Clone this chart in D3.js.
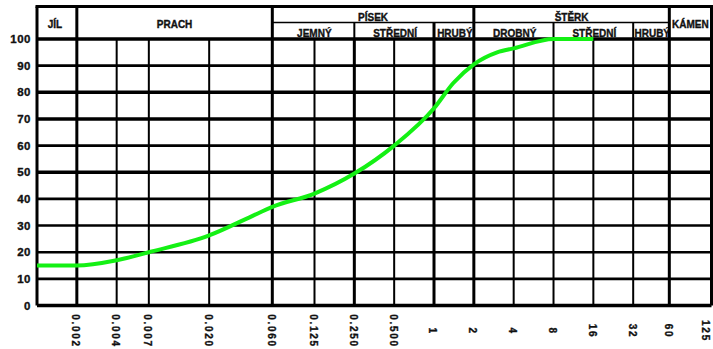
<!DOCTYPE html>
<html>
<head>
<meta charset="utf-8">
<script src="https://cdn.jsdelivr.net/npm/d3@7"></script>
<style>
  html, body { margin: 0; padding: 0; background: #fff; }
  svg { display: block; }
  text { font-family: "Liberation Sans", Arial, sans-serif; font-weight: bold; }
</style>
</head>
<body>
<svg id="chart" width="713" height="349"></svg>
<script>
// Grain-size boundaries (mm) and their printed labels
const sizeTicks  = [0.002, 0.004, 0.007, 0.020, 0.060, 0.125, 0.250, 0.500, 1, 2, 4, 8, 16, 32, 60, 125];
const sizeLabels = ["0.002", "0.004", "0.007", "0.020", "0.060", "0.125", "0.250", "0.500", "1", "2", "4", "8", "16", "32", "60", "125"];
// Boundaries between main fractions, drawn heavier
const majorBounds = [0.001, 0.002, 0.06, 0.25, 1, 2, 60, 125];

// Percent passing axis
const percentTicks = [0, 10, 20, 30, 40, 50, 60, 70, 80, 90, 100];
const heavyPercent = [0, 50, 70, 80, 100];

// Grading curve: grain size (mm) vs. percent passing
const grainSize = [0.001, 0.002, 0.004, 0.007, 0.02, 0.04, 0.06, 0.125, 0.25, 0.5, 1, 1.4, 2, 3, 4, 8, 16];
const passing   = [15, 15, 17, 20, 26.3, 33, 37, 42, 49.5, 60, 74, 83.5, 90.5, 95, 96.5, 100, 100];

// Soil classification header
const fullNames = ["JÍL", "PRACH", "KÁMEN"];
const fullFrom  = [0.001, 0.002, 60];
const fullTo    = [0.002, 0.06, 125];

const groupNames = ["PÍSEK", "ŠTĚRK"];
const groupFrom  = [0.06, 2];
const groupTo    = [2, 60];

const subNames = ["JEMNÝ", "STŘEDNÍ", "HRUBÝ", "DROBNÝ", "STŘEDNÍ", "HRUBÝ"];
const subFrom  = [0.06, 0.25, 1, 2, 8, 32];
const subTo    = [0.25, 1, 2, 8, 32, 60];

const svg = d3.select("#chart");

const x = d3.scaleLog().domain([0.001, 125]).range([37, 711.5]);
const y = d3.scaleLinear().domain([0, 100]).range([305.5, 39]);

const headTop = 6.5, headMid = 22.5, headBottom = y(100);

// --- horizontal grid ---
svg.append("g").selectAll("line").data(percentTicks).join("line")
  .attr("x1", x.range()[0]).attr("x2", x.range()[1])
  .attr("y1", d => y(d)).attr("y2", d => y(d))
  .attr("stroke", "#000")
  .attr("stroke-width", d => heavyPercent.includes(d) ? 3.4 : 2.6);

// --- vertical grid ---
const allBounds = [0.001].concat(sizeTicks);
svg.append("g").selectAll("line").data(allBounds).join("line")
  .attr("x1", d => x(d)).attr("x2", d => x(d))
  .attr("y1", headBottom).attr("y2", y(0))
  .attr("stroke", "#000")
  .attr("stroke-width", d => majorBounds.includes(d) ? 3 : 2);

// --- header frame ---
const head = svg.append("g");
head.append("line")
  .attr("x1", x(0.001) - 1.5).attr("x2", x(125) + 1.5)
  .attr("y1", headTop).attr("y2", headTop)
  .attr("stroke", "#000").attr("stroke-width", 3);
head.append("line")
  .attr("x1", x(0.06)).attr("x2", x(60))
  .attr("y1", headMid).attr("y2", headMid)
  .attr("stroke", "#000").attr("stroke-width", 1.6);

// full-height dividers
const headDividers = [0.001, 0.002, 0.06, 2, 60, 125];
head.selectAll("line.hd").data(headDividers).join("line").attr("class", "hd")
  .attr("x1", d => x(d)).attr("x2", d => x(d))
  .attr("y1", headTop).attr("y2", headBottom)
  .attr("stroke", "#000")
  .attr("stroke-width", 3);
// sub-row dividers
const subDividers = [0.25, 1, 8, 32];
head.selectAll("line.sd").data(subDividers).join("line").attr("class", "sd")
  .attr("x1", d => x(d)).attr("x2", d => x(d))
  .attr("y1", headMid).attr("y2", headBottom)
  .attr("stroke", "#000")
  .attr("stroke-width", d => (d === 1) ? 3 : 2);

// clip each header cell so long names are cut at the cell border
const defs = svg.append("defs");
function cellClip(id, a, b, top, bottom) {
  defs.append("clipPath").attr("id", id).append("rect")
    .attr("x", x(a) + 1).attr("y", top)
    .attr("width", x(b) - x(a) - 2).attr("height", bottom - top);
  return "url(#" + id + ")";
}

function heavy(sel) {
  return sel.attr("fill", "#111").attr("stroke", "#111").attr("stroke-width", 0.35);
}

fullNames.forEach((n, i) => {
  heavy(head.append("text"))
    .attr("clip-path", cellClip("cf" + i, fullFrom[i], fullTo[i], headTop, headBottom))
    .attr("x", (x(fullFrom[i]) + x(fullTo[i])) / 2 - (i === 0 ? 2 : 0))
    .attr("y", 27.5)
    .attr("text-anchor", "middle")
    .attr("font-size", 10)
    .text(n);
});
groupNames.forEach((n, i) => {
  heavy(head.append("text"))
    .attr("x", (x(groupFrom[i]) + x(groupTo[i])) / 2)
    .attr("y", 20.5)
    .attr("text-anchor", "middle")
    .attr("font-size", 10)
    .text(n);
});
subNames.forEach((n, i) => {
  heavy(head.append("text"))
    .attr("clip-path", cellClip("cs" + i, subFrom[i], subTo[i], headMid, headBottom))
    .attr("x", (x(subFrom[i]) + x(subTo[i])) / 2 + 1)
    .attr("y", 36.8)
    .attr("text-anchor", "middle")
    .attr("font-size", 10)
    .text(n);
});

// --- axes labels ---
heavy(svg.append("g")).selectAll("text").data(percentTicks).join("text")
  .attr("x", 31)
  .attr("y", d => y(d))
  .attr("dy", "0.36em")
  .attr("text-anchor", "end")
  .attr("font-size", 11.5)
  .attr("letter-spacing", 0.5)
  .text(d => d);

heavy(svg.append("g")).selectAll("text").data(sizeTicks).join("text")
  .attr("transform", d => `translate(${Math.min(x(d) - 1, 706)},331) rotate(90)`)
  .attr("dy", "0.36em")
  .attr("text-anchor", "middle")
  .attr("font-size", 10)
  .attr("letter-spacing", 1.7)
  .text((d, i) => sizeLabels[i]);

// --- grading curve ---
const pts = grainSize.map((g, i) => [x(g), y(passing[i])]);
svg.append("path")
  .attr("d", d3.line().curve(d3.curveMonotoneX)(pts))
  .attr("fill", "none")
  .attr("stroke", "#14f014")
  .attr("stroke-width", 4);
</script>
</body>
</html>
